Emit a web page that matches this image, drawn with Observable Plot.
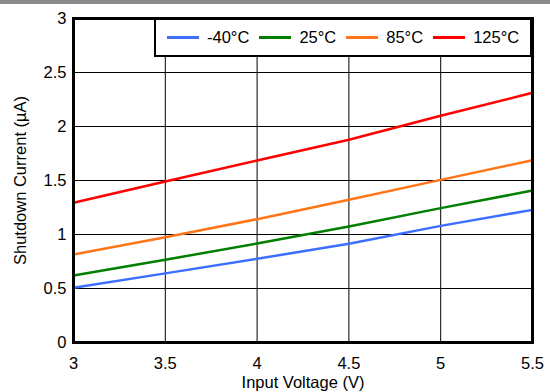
<!DOCTYPE html>
<html>
<head>
<meta charset="utf-8">
<script src="https://cdn.jsdelivr.net/npm/d3@7"></script>
<script src="https://cdn.jsdelivr.net/npm/@observablehq/plot@0.6"></script>
<style>
  html, body { margin: 0; padding: 0; background: #fff; }
  #wrap { position: relative; width: 550px; height: 392px; font-family: "Liberation Sans", Arial, sans-serif; }
  #bar { height: 4px; background: #8a8a8a; }
  #legend { position: absolute; left: 154px; top: 18px; width: 378px; height: 39px; box-sizing: border-box;
    border: 2.5px solid #000; background: #fff; display: flex; align-items: center; padding-left: 11px;
    font-size: 16.5px; color: #000; }
  .item { display: flex; align-items: center; margin-right: 10px; }
  .sw { width: 32px; height: 2.5px; margin-right: 8px; }
</style>
</head>
<body>
<div id="wrap"><div id="bar"></div><div id="chart"></div><div id="legend"></div></div>
<script>
const voltage = [3, 3.5, 4, 4.5, 5, 5.5];
const seriesNames = ["-40°C", "25°C", "85°C", "125°C"];
const seriesColors = ["#3c6eff", "#007f00", "#ff7518", "#ff0000"];
const currentM40 = [0.506, 0.64, 0.775, 0.914, 1.08, 1.228];
const current25 = [0.62, 0.766, 0.917, 1.074, 1.244, 1.407];
const current85 = [0.815, 0.975, 1.142, 1.321, 1.506, 1.688];
const current125 = [1.294, 1.49, 1.685, 1.877, 2.099, 2.312];
const xTicks = [3, 3.5, 4, 4.5, 5, 5.5];
const yTicks = [0, 0.5, 1, 1.5, 2, 2.5, 3];

const allSeries = [currentM40, current25, current85, current125];
const rows = [];
allSeries.forEach((vals, i) => vals.forEach((v, j) => rows.push({series: seriesNames[i], x: voltage[j], y: v})));

const chart = Plot.plot({
  width: 550,
  height: 388,
  marginLeft: 73,
  marginRight: 18,
  marginTop: 14,
  marginBottom: 50,
  style: {fontFamily: "'Liberation Sans', Arial, sans-serif", fontSize: "16.5px", color: "#000", background: "#fff"},
  x: {domain: [3, 5.5], ticks: xTicks, tickFormat: d => String(d), tickSize: 0, tickPadding: 15,
      label: "Input Voltage (V)", labelAnchor: "center", labelOffset: 45, labelArrow: "none"},
  y: {domain: [0, 3], ticks: yTicks, tickFormat: d => String(d), tickSize: 0, tickPadding: 7,
      label: "Shutdown Current (µA)", labelAnchor: "center", labelOffset: 59, labelArrow: "none"},
  color: {domain: seriesNames, range: seriesColors},
  marks: [
    Plot.gridX(xTicks, {stroke: "#000", strokeOpacity: 1, strokeWidth: 1}),
    Plot.gridY(yTicks, {stroke: "#000", strokeOpacity: 1, strokeWidth: 1}),
    Plot.line(rows, {x: "x", y: "y", z: "series", stroke: "series", strokeWidth: 2.5}),
    Plot.frame({stroke: "#000", strokeWidth: 3})
  ]
});
document.getElementById("chart").appendChild(chart);

const legend = document.getElementById("legend");
seriesNames.forEach((name, i) => {
  const item = document.createElement("div");
  item.className = "item";
  const sw = document.createElement("div");
  sw.className = "sw";
  sw.style.background = seriesColors[i];
  const t = document.createElement("span");
  t.textContent = name;
  item.appendChild(sw);
  item.appendChild(t);
  legend.appendChild(item);
});
</script>
</body>
</html>
